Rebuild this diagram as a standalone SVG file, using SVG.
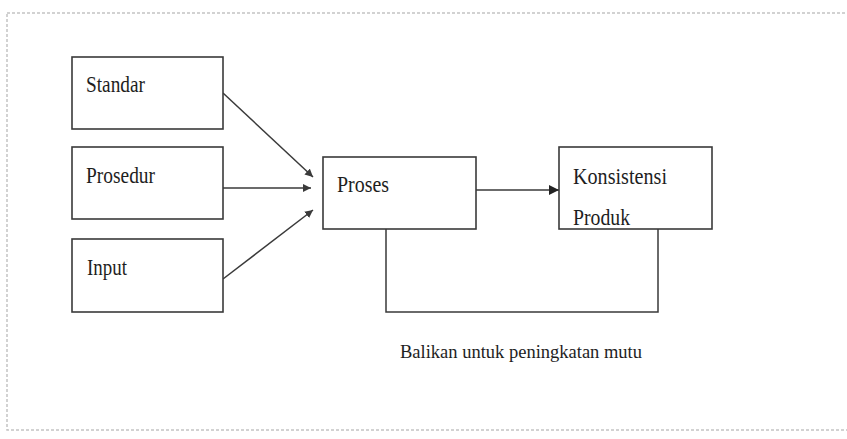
<svg xmlns="http://www.w3.org/2000/svg" width="847" height="439" viewBox="0 0 847 439">
<style>
.box{fill:#fff;stroke:#3a3a3a;stroke-width:1.6}
.t{font-family:"Liberation Serif",serif;font-size:24px;fill:#1e1e1e}
.c{fill:none;stroke:#3a3a3a;stroke-width:1.5}
</style>
<defs>
<marker id="ah" viewBox="0 0 10 10" refX="10" refY="5" markerWidth="8" markerHeight="8" markerUnits="userSpaceOnUse" orient="auto">
<path d="M0,0 L10,5 L0,10 z" fill="#3a3a3a"/>
</marker>
<marker id="ah2" viewBox="0 0 10 10" refX="10" refY="5" markerWidth="10" markerHeight="10" markerUnits="userSpaceOnUse" orient="auto">
<path d="M0,0 L10,5 L0,10 z" fill="#222"/>
</marker>
<clipPath id="kclip"><rect x="560" y="148" width="151" height="79"/></clipPath>
</defs>
<rect x="7" y="13" width="845" height="417" fill="#fff" stroke="#c4c4c4" stroke-width="1.5" stroke-dasharray="3,2"/>
<g id="connectors">
<line class="c" x1="223" y1="93" x2="313" y2="177" marker-end="url(#ah)"/>
<line class="c" x1="223" y1="188" x2="311" y2="188" marker-end="url(#ah)"/>
<line class="c" x1="223" y1="279" x2="313" y2="210" marker-end="url(#ah)"/>
<line class="c" x1="476" y1="190" x2="559" y2="190" marker-end="url(#ah2)"/>
<polyline class="c" points="386,229 386,312 658,312 658,229"/>
</g>
<g id="standar"><rect class="box" x="72" y="57" width="151" height="72"/><text class="t" x="86" y="92" textLength="59" lengthAdjust="spacingAndGlyphs">Standar</text></g>
<g id="prosedur"><rect class="box" x="72" y="147" width="151" height="72"/><text class="t" x="86" y="183" textLength="69" lengthAdjust="spacingAndGlyphs">Prosedur</text></g>
<g id="input"><rect class="box" x="72" y="239" width="151" height="73"/><text class="t" x="87" y="275" textLength="40" lengthAdjust="spacingAndGlyphs">Input</text></g>
<g id="proses"><rect class="box" x="323" y="157" width="153" height="72"/><text class="t" x="337" y="192" textLength="52" lengthAdjust="spacingAndGlyphs">Proses</text></g>
<g id="konsistensi"><rect class="box" x="559" y="147" width="153" height="82"/>
<g clip-path="url(#kclip)"><text class="t" x="573" y="184" textLength="94" lengthAdjust="spacingAndGlyphs">Konsistensi</text><text class="t" x="573" y="225" textLength="57" lengthAdjust="spacingAndGlyphs">Produk</text></g></g>
<text class="t" x="400" y="358" style="font-size:19px" textLength="242" lengthAdjust="spacingAndGlyphs">Balikan untuk peningkatan mutu</text>
</svg>
